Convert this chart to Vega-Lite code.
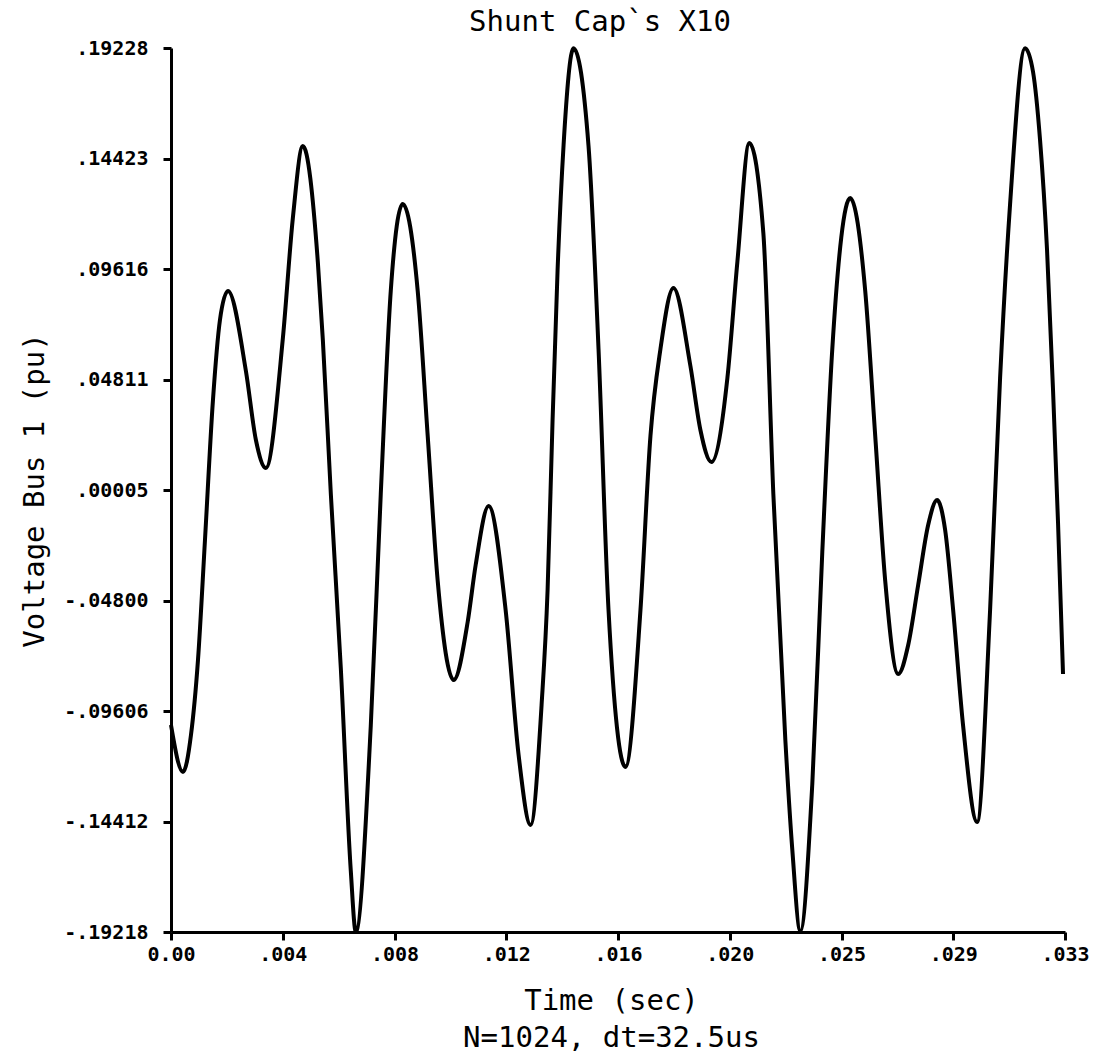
{
  "$schema": "https://vega.github.io/schema/vega-lite/v6.json",
  "autosize": "none",
  "width": 894,
  "height": 884,
  "padding": {"left": 171, "top": 48, "right": 36, "bottom": 129},
  "background": "white",
  "config": {
    "view": {"stroke": null},
    "font": "DejaVu Sans Mono",
    "axis": {
      "domainColor": "black",
      "domainWidth": 3,
      "tickColor": "black",
      "tickWidth": 3,
      "tickSize": 8,
      "grid": false,
      "labelFont": "DejaVu Sans Mono",
      "labelFontWeight": "bold",
      "labelFontSize": 20,
      "labelColor": "black",
      "titleFont": "DejaVu Sans Mono",
      "titleFontWeight": "normal",
      "titleColor": "black",
      "titleFontSize": 28
    }
  },
  "title": {
    "text": "Shunt Cap`s X10",
    "font": "DejaVu Sans Mono",
    "fontSize": 29,
    "fontWeight": "normal",
    "color": "black",
    "anchor": "middle",
    "baseline": "bottom",
    "offset": 10,
    "dx": -18,
    "dy": 38
  },
  "data": {
    "values": [
      {"t": 0.000000, "v": -0.10215},
      {"t": 0.000442, "v": -0.12259},
      {"t": 0.000737, "v": -0.10650},
      {"t": 0.000996, "v": -0.07388},
      {"t": 0.001254, "v": -0.02170},
      {"t": 0.001549, "v": 0.03919},
      {"t": 0.001807, "v": 0.07398},
      {"t": 0.002102, "v": 0.08660},
      {"t": 0.002765, "v": 0.05180},
      {"t": 0.003134, "v": 0.02180},
      {"t": 0.003503, "v": 0.00962},
      {"t": 0.004130, "v": 0.06616},
      {"t": 0.004498, "v": 0.11835},
      {"t": 0.004867, "v": 0.14966},
      {"t": 0.005420, "v": 0.09921},
      {"t": 0.005605, "v": 0.06529},
      {"t": 0.005900, "v": -0.00169},
      {"t": 0.006268, "v": -0.07736},
      {"t": 0.006637, "v": -0.16565},
      {"t": 0.006821, "v": -0.19210},
      {"t": 0.007374, "v": -0.10259},
      {"t": 0.007743, "v": -0.00169},
      {"t": 0.008112, "v": 0.08660},
      {"t": 0.008554, "v": 0.12443},
      {"t": 0.009107, "v": 0.08660},
      {"t": 0.009476, "v": 0.02353},
      {"t": 0.009845, "v": -0.03953},
      {"t": 0.010435, "v": -0.08258},
      {"t": 0.010951, "v": -0.05736},
      {"t": 0.011246, "v": -0.03257},
      {"t": 0.011725, "v": -0.00691},
      {"t": 0.012352, "v": -0.05214},
      {"t": 0.012831, "v": -0.11520},
      {"t": 0.013274, "v": -0.14564},
      {"t": 0.013679, "v": -0.09346},
      {"t": 0.013901, "v": -0.04344},
      {"t": 0.014085, "v": 0.03049},
      {"t": 0.014270, "v": 0.09573},
      {"t": 0.014491, "v": 0.15009},
      {"t": 0.014859, "v": 0.19220},
      {"t": 0.015412, "v": 0.14966},
      {"t": 0.015781, "v": 0.06137},
      {"t": 0.016150, "v": -0.05214},
      {"t": 0.016776, "v": -0.12042},
      {"t": 0.017329, "v": -0.05214},
      {"t": 0.017698, "v": 0.02353},
      {"t": 0.018067, "v": 0.06137},
      {"t": 0.018546, "v": 0.08790},
      {"t": 0.019173, "v": 0.05398},
      {"t": 0.019542, "v": 0.02614},
      {"t": 0.019948, "v": 0.01223},
      {"t": 0.020538, "v": 0.04876},
      {"t": 0.020906, "v": 0.09921},
      {"t": 0.021349, "v": 0.15096},
      {"t": 0.021865, "v": 0.11182},
      {"t": 0.022234, "v": -0.00169},
      {"t": 0.022677, "v": -0.10868},
      {"t": 0.022935, "v": -0.15652},
      {"t": 0.023230, "v": -0.19180},
      {"t": 0.023672, "v": -0.12781},
      {"t": 0.024041, "v": -0.02691},
      {"t": 0.024410, "v": 0.06137},
      {"t": 0.025073, "v": 0.12704},
      {"t": 0.025626, "v": 0.08660},
      {"t": 0.025995, "v": 0.02353},
      {"t": 0.026364, "v": -0.03953},
      {"t": 0.026843, "v": -0.07997},
      {"t": 0.027212, "v": -0.06736},
      {"t": 0.027580, "v": -0.04127},
      {"t": 0.027949, "v": -0.01517},
      {"t": 0.028281, "v": -0.00430},
      {"t": 0.028576, "v": -0.01735},
      {"t": 0.028871, "v": -0.05214},
      {"t": 0.029240, "v": -0.10259},
      {"t": 0.029756, "v": -0.14434},
      {"t": 0.030235, "v": -0.05214},
      {"t": 0.030604, "v": 0.04876},
      {"t": 0.030973, "v": 0.12443},
      {"t": 0.031526, "v": 0.19220},
      {"t": 0.031821, "v": 0.18184},
      {"t": 0.032079, "v": 0.15227},
      {"t": 0.032337, "v": 0.10443},
      {"t": 0.032558, "v": 0.04354},
      {"t": 0.032743, "v": -0.01430},
      {"t": 0.032927, "v": -0.07997}
    ]
  },
  "mark": {"type": "line", "color": "black", "strokeWidth": 4, "interpolate": "monotone"},
  "encoding": {
    "x": {
      "field": "t",
      "type": "quantitative",
      "scale": {"domain": [0, 0.033], "nice": false, "zero": false},
      "axis": {
        "values": [0, 0.004125, 0.00825, 0.012375, 0.0165, 0.020625, 0.02475, 0.028875, 0.033],
        "labelExpr": "datum.value < 0.002 ? '0.00' : datum.value < 0.006 ? '.004' : datum.value < 0.010 ? '.008' : datum.value < 0.014 ? '.012' : datum.value < 0.018 ? '.016' : datum.value < 0.022 ? '.020' : datum.value < 0.026 ? '.025' : datum.value < 0.030 ? '.029' : '.033'",
        "labelPadding": 4,
        "labelFlush": false,
        "labelOverlap": false,
        "title": ["Time (sec)", "N=1024, dt=32.5us"],
        "titleLineHeight": 37,
        "titlePadding": 22,
        "titleX": 440,
        "titleFontSize": 29
      }
    },
    "y": {
      "field": "v",
      "type": "quantitative",
      "scale": {"domain": [-0.19218, 0.19228], "nice": false, "zero": false},
      "axis": {
        "values": [-0.19218, -0.1441225, -0.096065, -0.0480075, 0.00005, 0.0481075, 0.096165, 0.1442225, 0.19228],
        "labelExpr": "datum.value > 0.17 ? '.19228' : datum.value > 0.12 ? '.14423' : datum.value > 0.07 ? '.09616' : datum.value > 0.02 ? '.04811' : datum.value > -0.02 ? '.00005' : datum.value > -0.07 ? '-.04800' : datum.value > -0.12 ? '-.09606' : datum.value > -0.17 ? '-.14412' : '-.19218'",
        "labelPadding": 15,
        "labelFlush": false,
        "labelOverlap": false,
        "title": "Voltage Bus 1 (pu)",
        "titleX": -137,
        "titleY": 442,
        "titleAngle": -90,
        "titleBaseline": "middle",
        "titleAlign": "center",
        "titleFontSize": 29
      }
    }
  }
}
